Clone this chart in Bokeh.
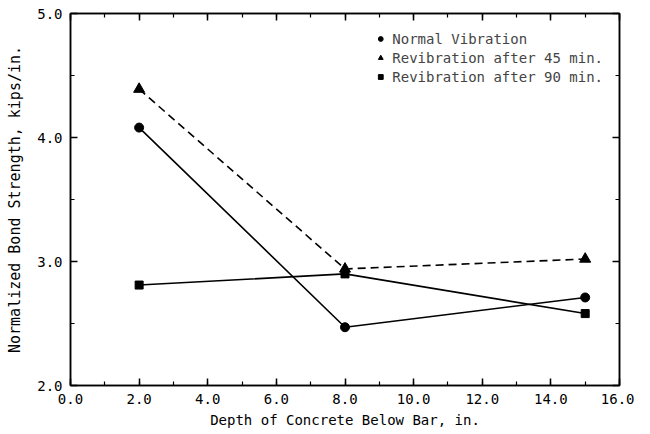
from bokeh.plotting import figure
from bokeh.models import (LinearAxis, Range1d, SingleIntervalTicker, NumeralTickFormatter,
                          Legend, LegendItem)
from bokeh.embed import file_html
from bokeh.resources import INLINE

depth = [2.0, 8.0, 15.0]
normal = [4.08, 2.47, 2.71]
revib45 = [4.39, 2.94, 3.02]
revib90 = [2.81, 2.90, 2.58]
labels = ["Normal Vibration", "Revibration after 45 min.", "Revibration after 90 min."]

FONT = "DejaVu Sans Mono"

p = figure(width=634, height=430, output_backend="svg", toolbar_location=None,
           x_range=Range1d(0, 16), y_range=Range1d(2, 5),
           x_axis_type=None, y_axis_type=None,
           min_border_left=70, min_border_right=15, min_border_top=13, min_border_bottom=44)
p.grid.visible = False
p.outline_line_color = "black"
p.outline_line_width = 1.5
p.background_fill_color = "white"
p.border_fill_color = "white"

def make_axis(interval, labels_on, label=""):
    ax = LinearAxis(ticker=SingleIntervalTicker(interval=interval, num_minor_ticks=2),
                    formatter=NumeralTickFormatter(format="0.0"))
    ax.major_tick_in = 7
    ax.major_tick_out = 0
    ax.minor_tick_in = 4
    ax.minor_tick_out = 0
    ax.axis_line_color = "black"
    ax.axis_line_width = 1.5
    ax.major_tick_line_width = 1.5
    ax.minor_tick_line_width = 1.2
    ax.major_label_text_font = FONT
    ax.major_label_text_font_size = "14px"
    ax.major_label_text_color = "black"
    ax.axis_label = label
    ax.axis_label_text_font = FONT
    ax.axis_label_text_font_size = "14px"
    ax.axis_label_text_font_style = "normal"
    ax.axis_label_text_color = "black"
    if not labels_on:
        ax.major_label_text_alpha = 0
        ax.major_label_text_font_size = "0px"
    return ax

bx = make_axis(2, True, "Depth of Concrete Below Bar, in.")
bx.major_label_standoff = 8
bx.axis_label_standoff = 5
p.add_layout(bx, "below")
ax_top = make_axis(2, False)
p.add_layout(ax_top, "above")
ly = make_axis(1, True, "Normalized Bond Strength, kips/in.")
ly.major_label_standoff = 8
ly.axis_label_standoff = 10
ly.axis_label_text_font_size = "15px"
p.add_layout(ly, "left")
ry = make_axis(1, False)
p.add_layout(ry, "right")

p.line(depth, normal, line_color="black", line_width=1.6)
p.line(depth, revib45, line_color="black", line_width=1.6, line_dash="8 5")
p.line(depth, revib90, line_color="black", line_width=1.6)

r1 = p.scatter(depth, normal, marker="circle", size=9, color="black")
r2 = p.scatter(depth, revib45, marker="triangle", size=11, color="black")
r3 = p.scatter(depth, revib90, marker="square", size=8, color="black")

legend = Legend(items=[LegendItem(label=labels[0], renderers=[r1]),
                       LegendItem(label=labels[1], renderers=[r2]),
                       LegendItem(label=labels[2], renderers=[r3])],
                location="top_right")
legend.border_line_color = None
legend.background_fill_alpha = 0
legend.label_text_font = FONT
legend.label_text_font_size = "14px"
legend.glyph_width = 12
legend.label_standoff = 6
legend.spacing = 0
legend.padding = 0
legend.margin = 16
legend.label_height = 19
legend.glyph_height = 19
p.add_layout(legend)

open("out.html", "w").write(file_html(p, INLINE))
